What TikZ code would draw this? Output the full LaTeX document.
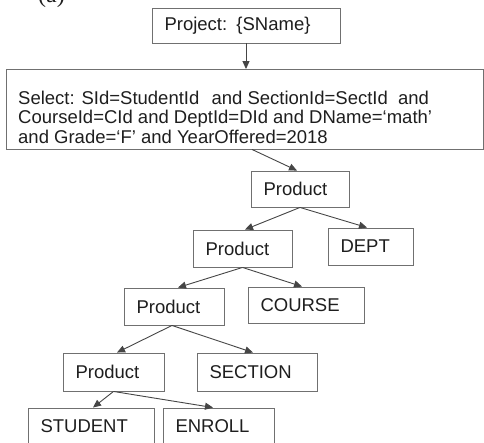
\documentclass[tikz,border=0pt]{standalone}
\usepackage{fontspec}
\setmainfont{Liberation Sans}
\newfontfamily\serifA{Liberation Serif}
\usetikzlibrary{arrows.meta,calc}
\definecolor{boxgray}{HTML}{707070}
\definecolor{linegray}{HTML}{454545}
\definecolor{txt}{HTML}{1E1E1E}
\begin{document}
\begin{tikzpicture}[x=1pt,y=-1pt,
  box/.style={draw=boxgray, line width=0.9pt, text=txt,
    font=\fontsize{18.5}{19.5}\selectfont, text width=#1, align=left,
    inner xsep=12.5pt, inner ysep=0pt, minimum height=37pt},
  arr/.style={draw=linegray, line width=0.9pt, -{Triangle[length=8pt,width=7pt]}}]
\useasboundingbox (0,0) rectangle (484,443);
% label (cut at top)
\node[font=\serifA\fontsize{24}{24}\selectfont, anchor=base west, inner sep=0pt, text=txt] (lbl) at (38,3) {(a)};
% boxes
\node[box=163pt, minimum height=35pt] (proj) at (246,25.5) {Project: \{SName\}};
\node[draw=boxgray, line width=0.9pt, minimum width=477pt, minimum height=79.5pt, inner sep=0pt] (sel) at (244.5,109.25) {};
\node[anchor=north west, inner sep=0pt, align=left, text=txt, font=\fontsize{18.5}{19.5}\selectfont] (seltext) at (18,90.5)
  {Select: SId=StudentId\hspace{7pt} and SectionId=SectId\hspace{5pt} and\\
   CourseId=CId and DeptId=DId and DName=‘math’\\
   and Grade=‘F’ and YearOffered=2018};
\node[box=73pt, minimum height=36pt] (p1) at (300,189) {Product};
\node[box=74pt] (p2) at (242.5,248.5) {Product};
\node[box=60pt] (dept) at (370.5,246.5) {DEPT};
\node[box=75pt] (p3) at (174,306.5) {Product};
\node[box=91pt, minimum height=36pt] (course) at (306,305) {COURSE};
\node[box=76pt, minimum height=38pt] (p4) at (113.5,372) {Product};
\node[box=95pt, minimum height=38pt] (section) at (257,372) {SECTION};
\node[box=101pt] (student) at (91,426.5) {STUDENT};
\node[box=86pt] (enroll) at (218.5,426.5) {ENROLL};
% connectors
\draw[arr] (proj.south) -- (proj.south |- sel.north);
\draw[arr] ([xshift=7.5pt]sel.south) -- ([xshift=-3pt]p1.north);
\draw[arr] (p1.south) -- ([xshift=2.5pt]p2.north);
\draw[arr] (p1.south) -- ([xshift=-3.5pt]dept.north);
\draw[arr] (p2.south) -- ([xshift=4pt]p3.north);
\draw[arr] (p2.south) -- ([xshift=-4pt]course.north);
\draw[arr] ([xshift=-2pt]p3.south) -- ([xshift=3.5pt]p4.north);
\draw[arr] ([xshift=-2pt]p3.south) -- ([xshift=-4pt]section.north);
\draw[arr] (p4.south) -- ([xshift=2pt]student.north);
\draw[arr] (p4.south) -- ([xshift=-5.5pt]enroll.north);
\end{tikzpicture}
\end{document}
